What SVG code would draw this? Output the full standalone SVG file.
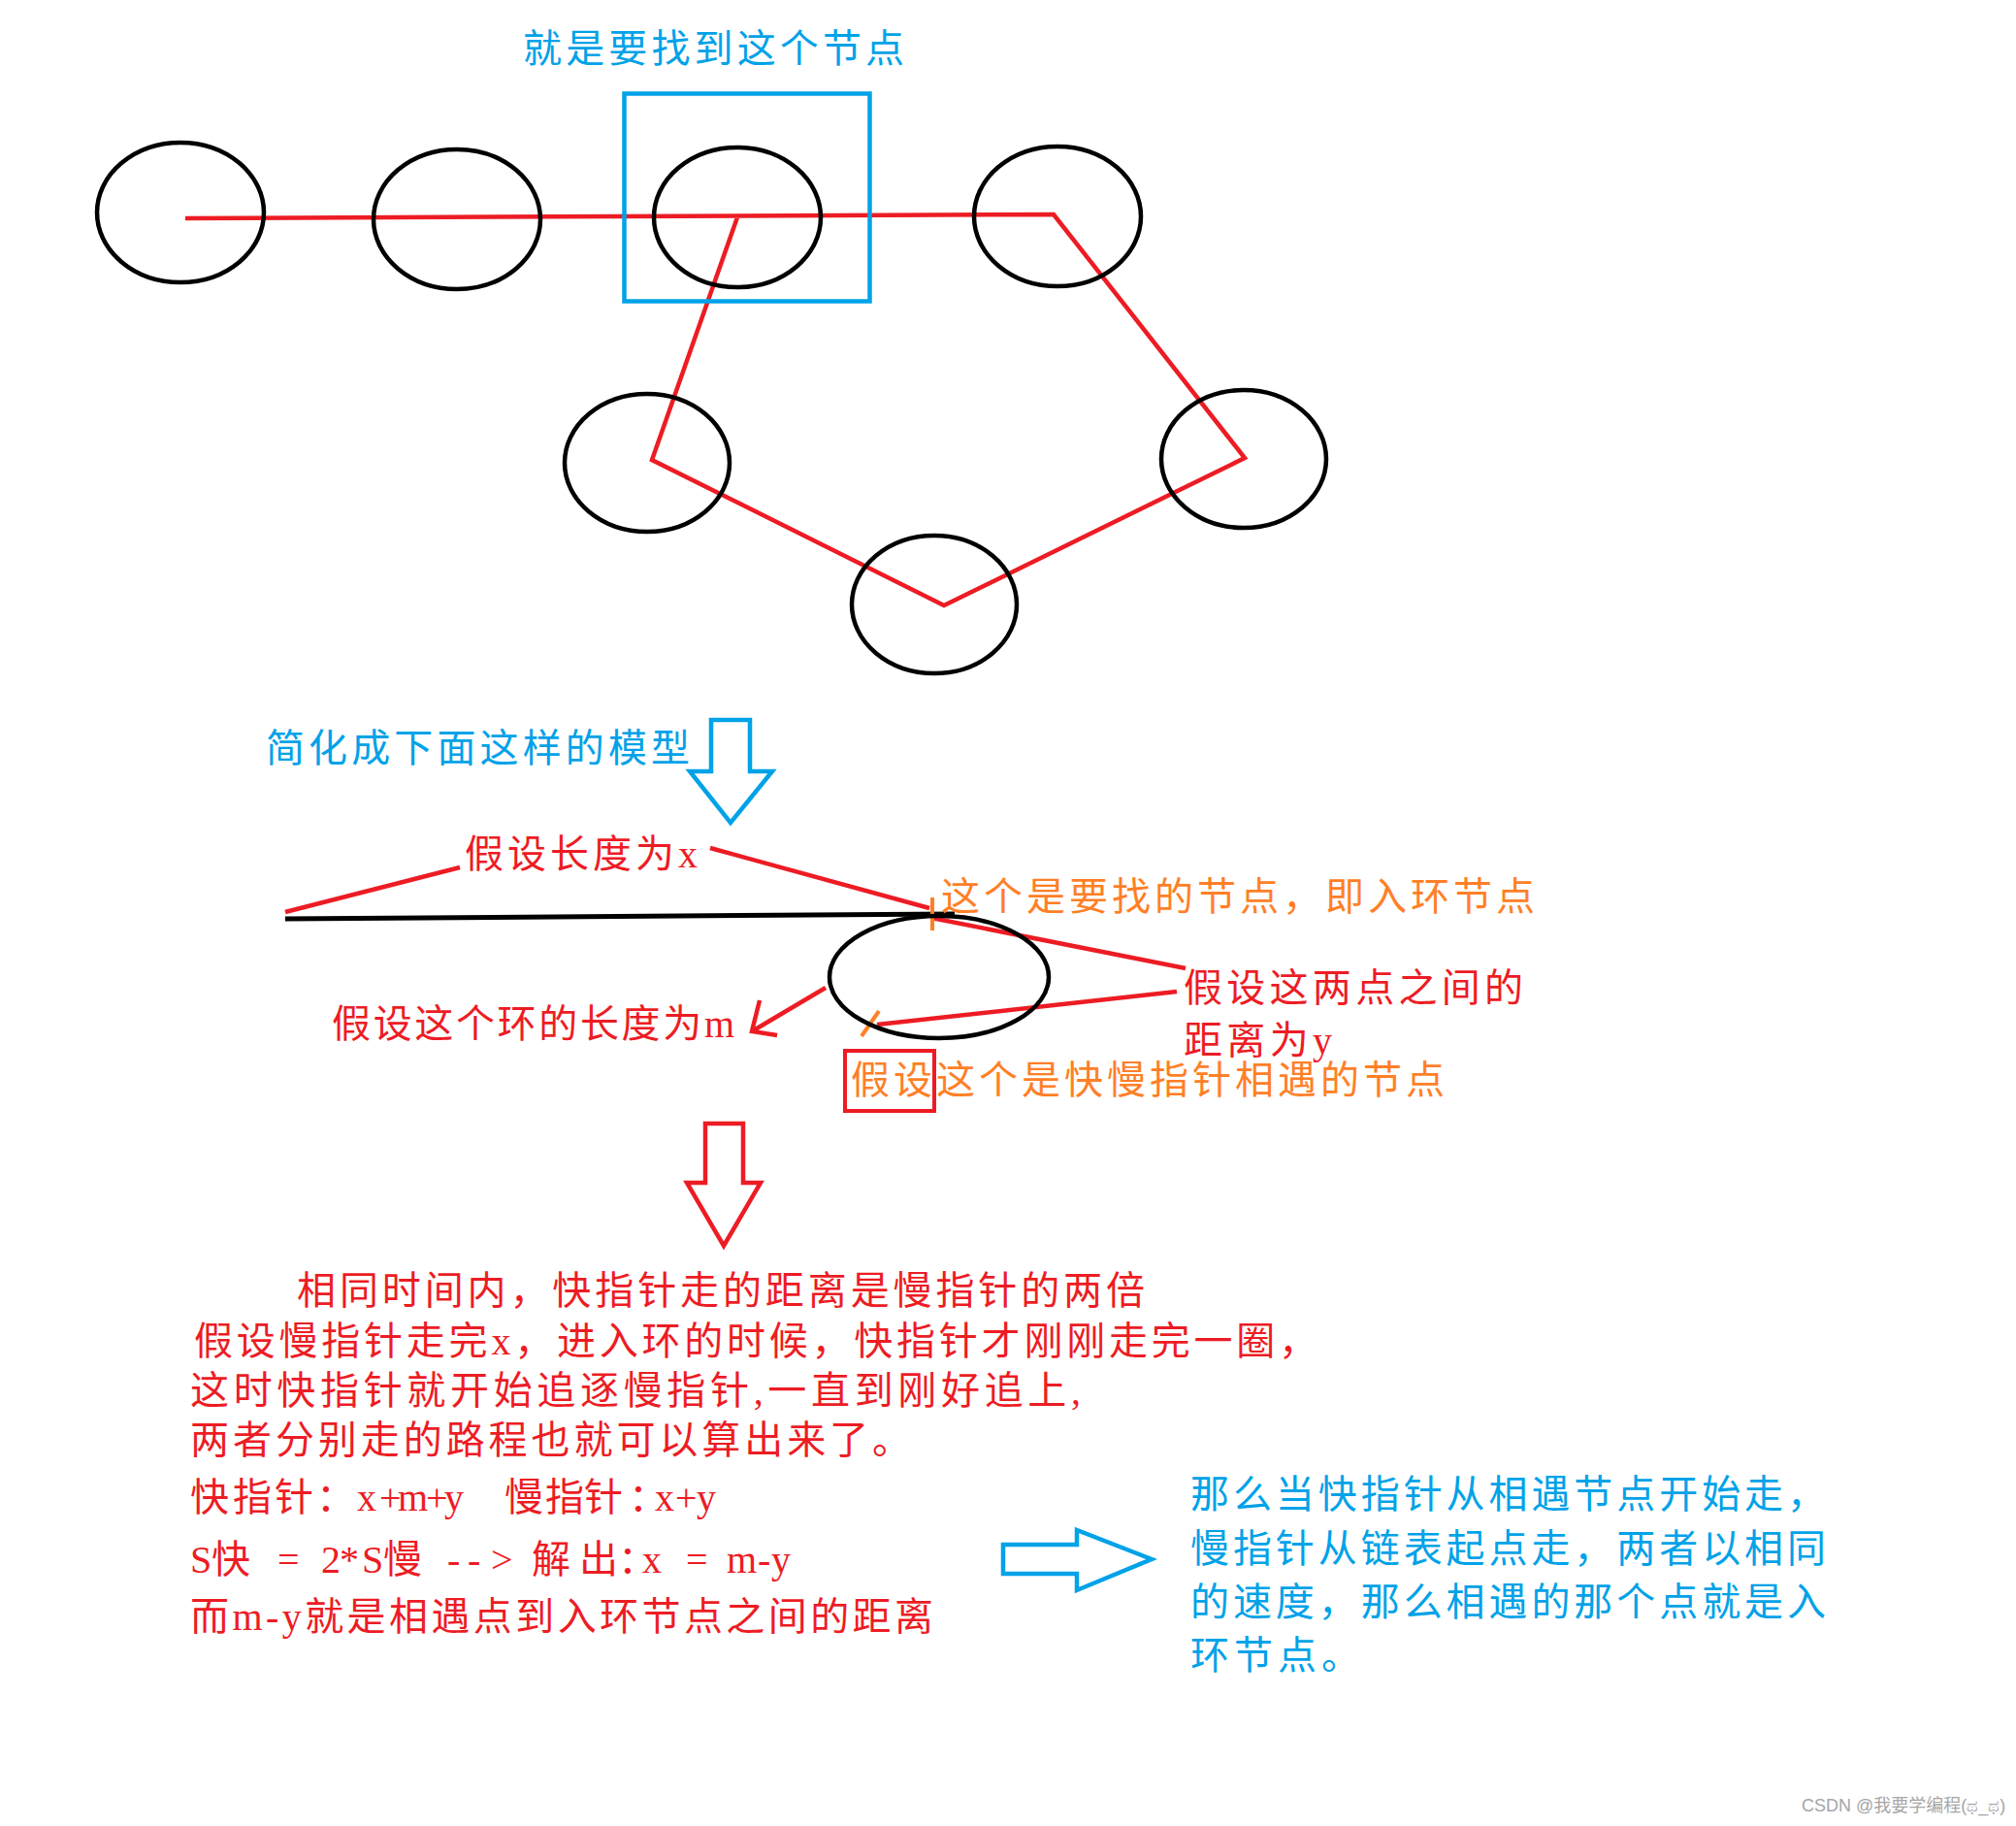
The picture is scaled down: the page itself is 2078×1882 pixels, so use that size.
<svg xmlns="http://www.w3.org/2000/svg" width="2078" height="1882" viewBox="0 0 2078 1882">
<style>
.node{fill:none;stroke:#000;stroke-width:4.5}
.red{fill:none;stroke:#ed1c24;stroke-width:4.5;stroke-linejoin:miter}
.blue{fill:none;stroke:#00a2e8;stroke-width:4.5}
.org{fill:none;stroke:#ff7f27;stroke-width:4}
text{font-family:"Liberation Serif","Noto Sans CJK SC",serif;font-size:40px}
.tr{fill:#ed1c24}
.tb{fill:#00a2e8}
.to{fill:#ff7f27}
</style>
<rect width="2078" height="1882" fill="#fff"/>

<g id="connectors">
  <polyline class="red" points="191,225 1086,221 1283,472 973,624 672,474 760,224"/>
  <line class="red" x1="294" y1="940" x2="474" y2="894"/>
  <line class="red" x1="732" y1="874" x2="958" y2="936"/>
  <line x1="294" y1="947" x2="984" y2="942" stroke="#000" stroke-width="5"/>
  <line class="red" x1="960" y1="946" x2="1222" y2="998"/>
  <line class="red" x1="904" y1="1056" x2="1213" y2="1022"/>
  <path class="red" d="M851,1018 L775,1063 M783,1031 L775,1063 L801,1067"/>
  <line class="org" x1="961" y1="925" x2="961" y2="959"/>
  <line class="org" x1="888" y1="1068" x2="906" y2="1042"/>
</g>

<g id="node1"><ellipse class="node" cx="186" cy="219" rx="86" ry="72"/></g>
<g id="node2"><ellipse class="node" cx="471" cy="226" rx="86" ry="72"/></g>
<g id="node3"><ellipse class="node" cx="760" cy="224" rx="86" ry="72"/></g>
<g id="node4"><ellipse class="node" cx="1090" cy="223" rx="86" ry="72"/></g>
<g id="node5"><ellipse class="node" cx="667" cy="477" rx="85" ry="71"/></g>
<g id="node6"><ellipse class="node" cx="1282" cy="473" rx="85" ry="71"/></g>
<g id="node7"><ellipse class="node" cx="963" cy="623" rx="85" ry="71"/></g>
<g id="model-loop"><ellipse class="node" cx="968" cy="1007" rx="113" ry="63"/></g>

<g id="highlight-box"><rect class="blue" x="643.5" y="96.5" width="253" height="214"/></g>
<g id="meet-box"><rect x="871" y="1083" width="92" height="62" fill="none" stroke="#ed1c24" stroke-width="4"/></g>

<g id="arrow-blue-down"><path class="blue" d="M733,742 L773,742 L773,795 L796,795 L753,848 L711,795 L733,795 Z"/></g>
<g id="arrow-red-down"><path class="red" d="M727,1158 L766,1158 L766,1219 L784,1219 L746,1284 L708,1219 L727,1219 Z"/></g>
<g id="arrow-blue-right"><path class="blue" d="M1034,1592 L1110,1592 L1110,1577 L1187,1607 L1110,1639 L1110,1622 L1034,1622 Z"/></g>

<g id="texts">
  <text class="tb" x="539" y="64" textLength="393" lengthAdjust="spacing">就是要找到这个节点</text>
  <text class="tb" x="274" y="785" textLength="437" lengthAdjust="spacing">简化成下面这样的模型</text>
  <text class="tr" x="479" y="894" textLength="240" lengthAdjust="spacing">假设长度为x</text>
  <text class="to" x="970" y="938" textLength="612" lengthAdjust="spacing">这个是要找的节点，即入环节点</text>
  <text class="tr" x="1220" y="1032" textLength="350" lengthAdjust="spacing">假设这两点之间的</text>
  <text class="tr" x="1220" y="1086" textLength="153" lengthAdjust="spacing">距离为y</text>
  <text class="tr" x="342" y="1069" textLength="415" lengthAdjust="spacing">假设这个环的长度为m</text>
  <text class="to" x="877" y="1127" textLength="612" lengthAdjust="spacing">假设这个是快慢指针相遇的节点</text>

  <text class="tr" x="306" y="1344" textLength="874" lengthAdjust="spacing">相同时间内，快指针走的距离是慢指针的两倍</text>
  <text class="tr" x="200" y="1396" textLength="1158" lengthAdjust="spacing">假设慢指针走完x，进入环的时候，快指针才刚刚走完一圈，</text>
  <text class="tr" x="196" y="1447" textLength="918" lengthAdjust="spacing">这时快指针就开始追逐慢指针,一直到刚好追上,</text>
  <text class="tr" x="196" y="1498" textLength="743" lengthAdjust="spacing">两者分别走的路程也就可以算出来了。</text>
  <text class="tr" x="196 240 283 326 368 391 410 439 458 520 562 602 648 675 696 718" y="1557">快指针：x+m+y慢指针：x+y</text>
  <text class="tr" x="196 218 286 331 350 373 395 461 482 506 548 597 637 662 707 749 781 795" y="1621">S快=2*S慢--&gt;解出：x=m-y</text>
  <text class="tr" x="196" y="1680" textLength="766" lengthAdjust="spacing">而m-y就是相遇点到入环节点之间的距离</text>

  <text class="tb" x="1227" y="1554" textLength="655" lengthAdjust="spacing">那么当快指针从相遇节点开始走，</text>
  <text class="tb" x="1227" y="1610" textLength="655" lengthAdjust="spacing">慢指针从链表起点走，两者以相同</text>
  <text class="tb" x="1227" y="1665" textLength="655" lengthAdjust="spacing">的速度，那么相遇的那个点就是入</text>
  <text class="tb" x="1227" y="1720" textLength="175" lengthAdjust="spacing">环节点。</text>

  <text x="1857" y="1867" style="font-family:'Liberation Sans','Noto Sans CJK SC',sans-serif;font-size:18px;fill:#a6a6a6">CSDN @我要学编程(ಥ_ಥ)</text>
</g>
</svg>
